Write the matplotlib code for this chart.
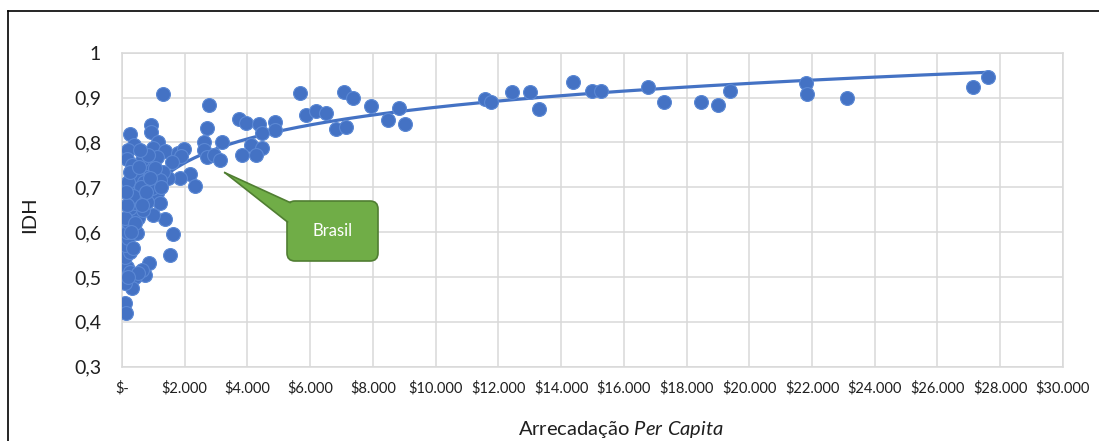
import numpy as np
import matplotlib
matplotlib.use('Agg')
import matplotlib.pyplot as plt
from matplotlib.lines import Line2D
from matplotlib.patches import FancyBboxPatch, Polygon
from matplotlib.ticker import FuncFormatter

plt.rcParams['font.family'] = ['Lato', 'DejaVu Sans']
plt.rcParams['mathtext.fontset'] = 'custom'
plt.rcParams['mathtext.rm'] = 'Lato'
plt.rcParams['mathtext.it'] = 'Lato:italic'

# arrecadacao per capita (em milhares de $) e IDH
arrec_mil = [
    11.57, 11.78, 12.42, 13.0, 13.3, 14.39, 15.0, 15.26, 16.78, 17.28, 18.46, 19.0,
    19.38, 21.8, 21.85, 23.1, 27.14, 27.62,
    5.67, 7.08, 7.37, 5.87, 6.2, 6.5, 6.82, 7.14, 7.94, 8.49, 8.83, 9.03,
    3.74, 3.95, 4.38, 4.88, 4.88, 4.45, 4.1, 4.45, 3.82, 4.27,
    1.3, 2.77, 2.72, 0.91, 0.91, 0.26, 0.38, 0.2, 0.15, 1.16, 1.0, 1.37,
    1.8, 1.98, 1.87, 1.58, 2.61, 2.61, 2.72, 2.93, 3.12, 3.18, 2.17, 2.33,
    1.85, 0.79, 0.63, 1.11, 0.79, 0.47, 0.41, 1.11, 1.48, 1.32,
    1.21, 1.37, 1.62, 1.53, 0.87, 0.73, 0.41, 0.31, 0.1, 0.13, 0.1, 0.15,
    0.26, 0.1, 0.26, 0.1, 0.2, 0.15, 0.47, 0.2, 0.52, 0.98, 0.68, 0.26,
    0.41, 0.79, 0.45, 0.63, 0.52,
    0.44, 0.7, 0.96, 1.21, 0.19, 0.32, 0.83, 1.05, 0.57, 0.1, 0.6, 0.35,
    0.9, 1.25, 0.25, 0.55, 0.75, 0.4, 0.3, 0.65, 0.15, 0.12, 0.2, 0.35,
]
idh = [
    0.896, 0.891, 0.913, 0.913, 0.874, 0.935, 0.915, 0.915, 0.923, 0.889, 0.891, 0.884,
    0.915, 0.932, 0.907, 0.898, 0.923, 0.945,
    0.911, 0.913, 0.898, 0.861, 0.871, 0.866, 0.829, 0.835, 0.881, 0.850, 0.876, 0.840,
    0.852, 0.844, 0.840, 0.846, 0.828, 0.820, 0.794, 0.787, 0.772, 0.772,
    0.908, 0.883, 0.833, 0.839, 0.824, 0.818, 0.794, 0.783, 0.763, 0.802, 0.787, 0.781,
    0.777, 0.785, 0.770, 0.757, 0.802, 0.783, 0.767, 0.772, 0.761, 0.800, 0.730, 0.703,
    0.720, 0.742, 0.761, 0.768, 0.724, 0.735, 0.694, 0.687, 0.720, 0.735,
    0.664, 0.629, 0.596, 0.549, 0.532, 0.504, 0.501, 0.475, 0.441, 0.419, 0.486, 0.523,
    0.512, 0.545, 0.556, 0.571, 0.586, 0.601, 0.598, 0.623, 0.631, 0.638, 0.649, 0.653,
    0.664, 0.668, 0.683, 0.516, 0.509,
    0.728, 0.712, 0.699, 0.717, 0.712, 0.750, 0.772, 0.743, 0.784, 0.632, 0.700, 0.680,
    0.720, 0.700, 0.735, 0.745, 0.690, 0.620, 0.600, 0.660, 0.660, 0.690, 0.500, 0.565,
]

# linha de tendencia logaritmica do Excel (y = a*ln(x) + b)
trend_a = 0.0769
trend_b = 0.170

brasil_x = 3280
brasil_y = 0.7325

x_ticks = list(range(0, 30001, 2000))
y_ticks = [0.3, 0.4, 0.5, 0.6, 0.7, 0.8, 0.9, 1.0]

arrec = np.array(arrec_mil) * 1000
idh = np.array(idh)

txt = '#1F1F1F'

fig = plt.figure(figsize=(10.99, 4.41), dpi=100)
ax = fig.add_axes([0.111, 0.1685, 0.8562, 0.712])

xs = np.linspace(arrec.min(), arrec.max(), 400)
ax.plot(xs, trend_a * np.log(xs) + trend_b, color='#4472C4', lw=2.3, zorder=2)

ax.scatter(arrec, idh, s=100, color='#4472C4', edgecolors='#5B88D4', linewidths=0.8, zorder=3)

ax.set_xlim(0, 30000)
ax.set_ylim(0.3, 1.0)
ax.set_xticks(x_ticks)
ax.set_yticks(y_ticks)
ax.xaxis.set_major_formatter(FuncFormatter(
    lambda v, p: '\\$-' if v == 0 else '\\$' + f'{v:,.0f}'.replace(',', '.')))
ax.yaxis.set_major_formatter(FuncFormatter(
    lambda v, p: '1' if abs(v - 1) < 1e-9 else f'{v:.1f}'.replace('.', ',')))
ax.tick_params(axis='x', length=0, pad=10, labelsize=10.5, colors=txt)
ax.tick_params(axis='y', length=0, pad=15, labelsize=14, colors=txt)
ax.grid(True, color='#D9D9D9', lw=1.1, zorder=0)
ax.set_axisbelow(True)
for s in ax.spines.values():
    s.set_color('#D9D9D9')
    s.set_linewidth(1.1)

fig.text(621 / 1099, 1 - 430 / 441, 'Arrecadação $\\mathit{Per\\ Capita}$',
         ha='center', va='center', fontsize=14.5, color=txt)
fig.text(30 / 1099, 1 - 215 / 441, 'IDH', ha='center', va='center',
         rotation=90, fontsize=14.5, color=txt)

# caixa "Brasil"
dpi = fig.dpi
tip = tuple(ax.transData.transform((brasil_x, brasil_y)) / dpi)
left, top = 2.87, (441 - 201) / 100
w, h = 0.91, 0.60
box = FancyBboxPatch((left, top - h), w, h, boxstyle='round,pad=0,rounding_size=0.08',
                     transform=fig.dpi_scale_trans, fc='#70AD47', ec='#507E32', lw=1.2, zorder=5)
fig.add_artist(box)
p1 = (left + 0.03, top - 0.015)
p2 = (left + 0.005, top - 0.21)
wedge = Polygon([tip, p1, (p1[0] + 0.05, p1[1] - 0.04), (p2[0] + 0.05, p2[1]), p2],
                closed=True, transform=fig.dpi_scale_trans, fc='#70AD47', ec='none', zorder=6)
fig.add_artist(wedge)
for p in (p1, p2):
    fig.add_artist(Line2D([tip[0], p[0]], [tip[1], p[1]], transform=fig.dpi_scale_trans,
                          color='#507E32', lw=1.2, zorder=7))
fig.text((left + w / 2) * dpi / 1099, (top - h / 2) * dpi / 441, 'Brasil', ha='center',
         va='center', fontsize=12, color='white', zorder=8)

# bordas do grafico
fig.add_artist(Line2D([8 / 1099, 8 / 1099], [0, 1 - 10.7 / 441], color='black', lw=1.2))
fig.add_artist(Line2D([8 / 1099, 1], [1 - 10.7 / 441, 1 - 10.7 / 441], color='black', lw=1.2))

fig.savefig('out.png', dpi=100)
